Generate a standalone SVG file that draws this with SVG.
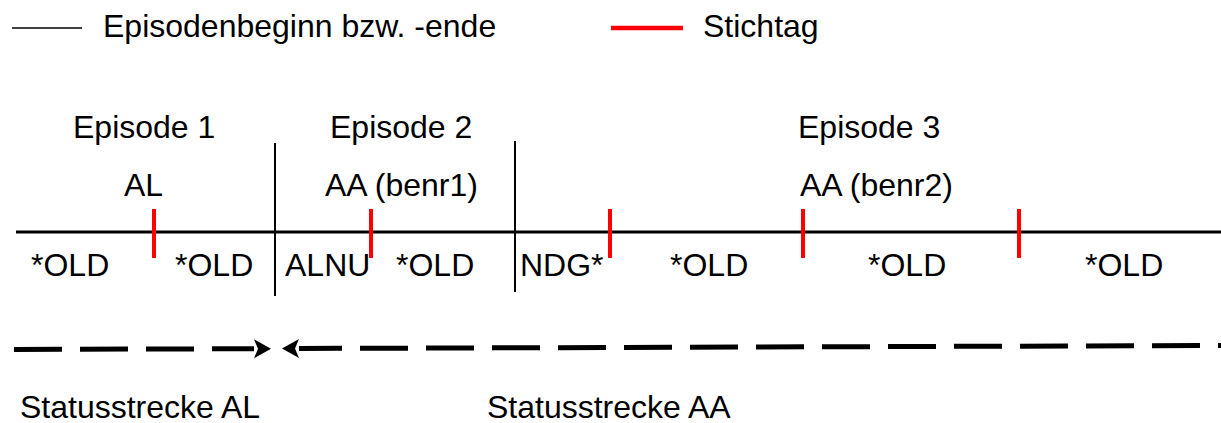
<svg xmlns="http://www.w3.org/2000/svg" width="1221" height="423" viewBox="0 0 1221 423">
  <style>
    text { font-family: "Liberation Sans", Arial, sans-serif; font-size: 32px; fill: #000; }
    .thin { stroke: #000; stroke-width: 1.6; fill: none; }
    .sep { stroke: #000; stroke-width: 2; fill: none; }
    .axis { stroke: #000; stroke-width: 3.2; fill: none; }
    .tick { stroke: #ff0000; stroke-width: 4; fill: none; }
    .span { stroke: #000; stroke-width: 5; fill: none; stroke-dasharray: 48 18; }
  </style>
  <defs>
    <marker id="head" markerUnits="userSpaceOnUse" markerWidth="18" markerHeight="22" viewBox="0 -11 18 22" refX="0" refY="0" orient="auto-start-reverse">
      <path d="M0,-9.5 L17,0 L0,9.5 L4,0 Z" fill="#000"/>
    </marker>
  </defs>

  <!-- legend -->
  <g id="legend-episode">
    <line class="thin" x1="12" y1="28" x2="82" y2="28"/>
    <text x="103" y="37">Episodenbeginn bzw. -ende</text>
  </g>
  <g id="legend-stichtag">
    <line class="tick" x1="611" y1="28" x2="683" y2="28" style="stroke-width:4.5"/>
    <text x="703" y="37">Stichtag</text>
  </g>

  <!-- time axis with episode borders and reference days -->
  <g id="timeline">
    <line class="axis" x1="16" y1="232" x2="1221" y2="232"/>
    <line class="sep" x1="275" y1="143" x2="275" y2="296"/>
    <line class="sep" x1="515" y1="141" x2="515" y2="292"/>
    <line class="tick" x1="154" y1="209" x2="154" y2="258"/>
    <line class="tick" x1="371" y1="209" x2="371" y2="258"/>
    <line class="tick" x1="610" y1="209" x2="610" y2="258"/>
    <line class="tick" x1="803" y1="209" x2="803" y2="258"/>
    <line class="tick" x1="1019" y1="209" x2="1019" y2="258"/>
  </g>

  <g id="episode-1">
    <text x="73" y="138">Episode 1</text>
    <text x="124" y="196">AL</text>
    <text x="31" y="276">*OLD</text>
    <text x="175" y="276">*OLD</text>
  </g>
  <g id="episode-2">
    <text x="330" y="138">Episode 2</text>
    <text x="325" y="196">AA (benr1)</text>
    <text x="285" y="276">ALNU</text>
    <text x="396" y="276">*OLD</text>
  </g>
  <g id="episode-3">
    <text x="798" y="138">Episode 3</text>
    <text x="800" y="196">AA (benr2)</text>
    <text x="520" y="276">NDG*</text>
    <text x="670" y="276">*OLD</text>
    <text x="868" y="276">*OLD</text>
    <text x="1085" y="276">*OLD</text>
  </g>

  <!-- status spans -->
  <g id="connectors">
    <path class="span" d="M14,349.5 L254,348.7" marker-end="url(#head)"/>
    <path class="span" d="M299,348.5 L1221,345.5" style="stroke-dashoffset:5" marker-start="url(#head)"/>
  </g>

  <g id="status-al">
    <text x="20" y="418">Statusstrecke AL</text>
  </g>
  <g id="status-aa">
    <text x="487" y="418">Statusstrecke AA</text>
  </g>
</svg>
